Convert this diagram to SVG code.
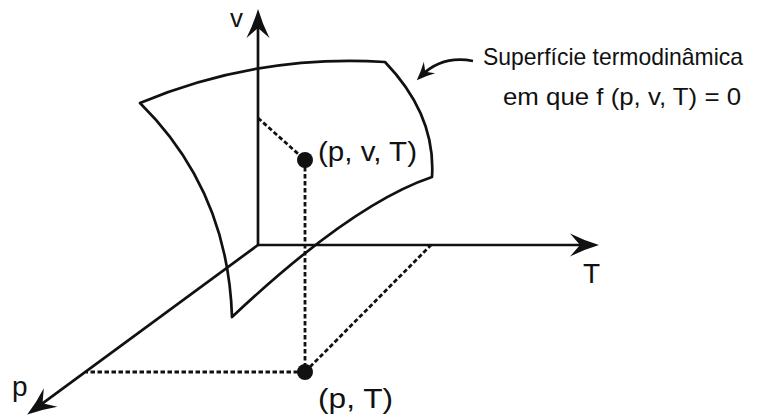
<svg xmlns="http://www.w3.org/2000/svg" width="759" height="417" viewBox="0 0 759 417">
<style>
.ln{fill:none;stroke:#111;stroke-width:2.7;stroke-linejoin:round}
.ds{fill:none;stroke:#111;stroke-width:2.8;stroke-dasharray:4.5 2.5}
.tx{font-family:"Liberation Sans",Arial,Helvetica,sans-serif;fill:#111}
</style>
<defs>
<marker id="ah" markerUnits="userSpaceOnUse" markerWidth="32" markerHeight="26" refX="18" refY="11" orient="auto" overflow="visible">
<path d="M29,11 Q14,6.5 0,-0.5 L10,11 L0,22.5 Q14,15.5 29,11 Z" fill="#111"/>
</marker>
<marker id="ahs" markerUnits="userSpaceOnUse" markerWidth="22" markerHeight="18" refX="12" refY="8" orient="auto" overflow="visible">
<path d="M18,8 Q9,5 0,0 L6,8 L0,16 Q9,11 18,8 Z" fill="#111"/>
</marker>
</defs>
<rect width="759" height="417" fill="#fff"/>
<g id="surface">
<path class="ln" d="M140,103 Q257,54 385,62 Q436,115 432,177 Q352,204 232,317 Q228,190 140,103 Z"/>
</g>
<g id="connectors">
<line class="ln" x1="258" y1="245" x2="258" y2="20" marker-end="url(#ah)"/>
<line class="ln" x1="258" y1="245" x2="588" y2="245" marker-end="url(#ah)"/>
<line class="ln" x1="258" y1="245" x2="36.1" y2="408.1" marker-end="url(#ah)"/>
<line class="ds" x1="258" y1="118" x2="305" y2="160"/>
<line class="ds" x1="305" y1="160" x2="305" y2="372"/>
<line class="ds" x1="305" y1="372" x2="86" y2="372"/>
<line class="ds" x1="305" y1="372" x2="431" y2="245"/>
<path class="ln" d="M473,61 Q442,55 421,76" marker-end="url(#ahs)"/>
</g>
<g id="point-pvT">
<circle cx="305" cy="160" r="8" fill="#111"/>
<text class="tx" x="318" y="161" font-size="28" textLength="99" lengthAdjust="spacingAndGlyphs">(p, v, T)</text>
</g>
<g id="point-pT">
<circle cx="305" cy="372" r="8" fill="#111"/>
<text class="tx" x="318" y="408" font-size="28" textLength="75" lengthAdjust="spacingAndGlyphs">(p, T)</text>
</g>
<g id="labels">
<text class="tx" x="230" y="27" font-size="26">v</text>
<text class="tx" x="583" y="283" font-size="28">T</text>
<text class="tx" x="12" y="396" font-size="28">p</text>
<text class="tx" x="483" y="65" font-size="24" textLength="260" lengthAdjust="spacingAndGlyphs">Superfície termodinâmica</text>
<text class="tx" x="503" y="105" font-size="24" textLength="238" lengthAdjust="spacingAndGlyphs">em que f (p, v, T) = 0</text>
</g>
</svg>
